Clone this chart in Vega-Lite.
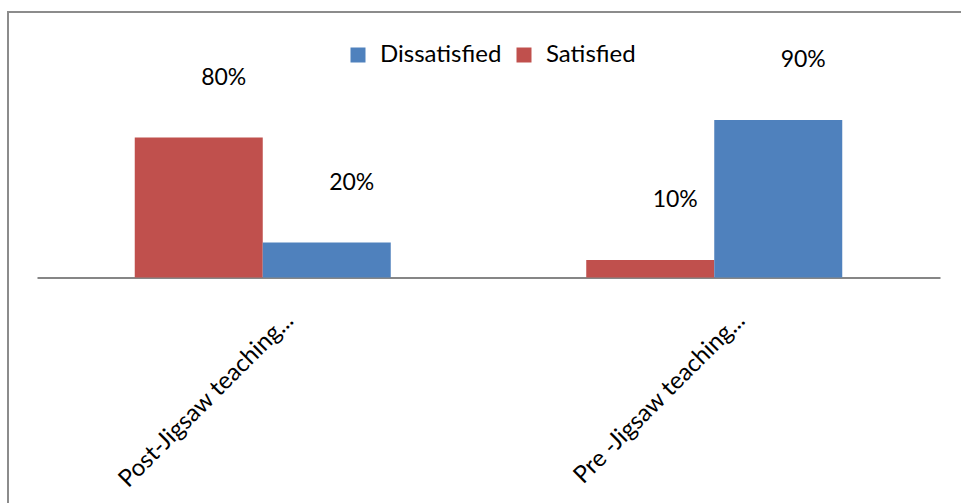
{
  "$schema": "https://vega.github.io/schema/vega-lite/v6.json",
  "width": 956,
  "height": 494,
  "autosize": {"type": "none"},
  "padding": {"left": 8, "top": 12, "right": -3, "bottom": -3},
  "background": "white",
  "config": {"view": {"stroke": "#8c8c8c", "strokeWidth": 2}, "font": "Lato"},
  "data": {"values": [
    {"group": "Post-Jigsaw teaching...", "status": "Satisfied", "pct": 0.8},
    {"group": "Post-Jigsaw teaching...", "status": "Dissatisfied", "pct": 0.2},
    {"group": "Pre -Jigsaw teaching...", "status": "Satisfied", "pct": 0.1},
    {"group": "Pre -Jigsaw teaching...", "status": "Dissatisfied", "pct": 0.9}
  ]},
  "encoding": {
    "x": {
      "field": "group", "type": "nominal",
      "scale": {"range": [29, 932], "paddingInner": 0.433, "paddingOuter": 0.2165},
      "axis": {
        "title": null, "orient": "bottom", "offset": -228.5,
        "domainColor": "#868686", "domainWidth": 2, "ticks": false, "grid": false,
        "labelAngle": -45, "labelAlign": "right", "labelBaseline": "middle",
        "labelPadding": 39, "labelOffset": 27, "labelFontSize": 24,
        "labelColor": "black", "labelFont": "Lato", "labelLimit": 0
      }
    },
    "xOffset": {"field": "status", "type": "nominal", "sort": ["Satisfied", "Dissatisfied"], "scale": {"paddingInner": 0, "paddingOuter": 0}},
    "y": {"field": "pct", "type": "quantitative", "scale": {"domain": [0, 1], "range": [265.5, 90.5]}, "axis": null}
  },
  "layer": [
    {
      "mark": {"type": "bar"},
      "encoding": {
        "color": {
          "field": "status", "type": "nominal",
          "scale": {"domain": ["Dissatisfied", "Satisfied"], "range": ["#4f81bd", "#c0504d"]},
          "legend": {
            "orient": "none", "legendX": 338, "legendY": 31, "direction": "horizontal",
            "title": null, "symbolType": "square", "symbolSize": 225, "symbolStrokeWidth": 0,
            "symbolOpacity": 1, "labelFontSize": 24, "labelFont": "Lato", "labelColor": "black",
            "labelOffset": 10, "columnPadding": 10, "padding": 0
          }
        }
      }
    },
    {
      "mark": {"type": "text", "dx": 25, "dy": -60, "fontSize": 23, "font": "Lato", "color": "black", "baseline": "middle", "align": "center"},
      "encoding": {"text": {"field": "pct", "type": "quantitative", "format": ".0%"}}
    }
  ]
}
